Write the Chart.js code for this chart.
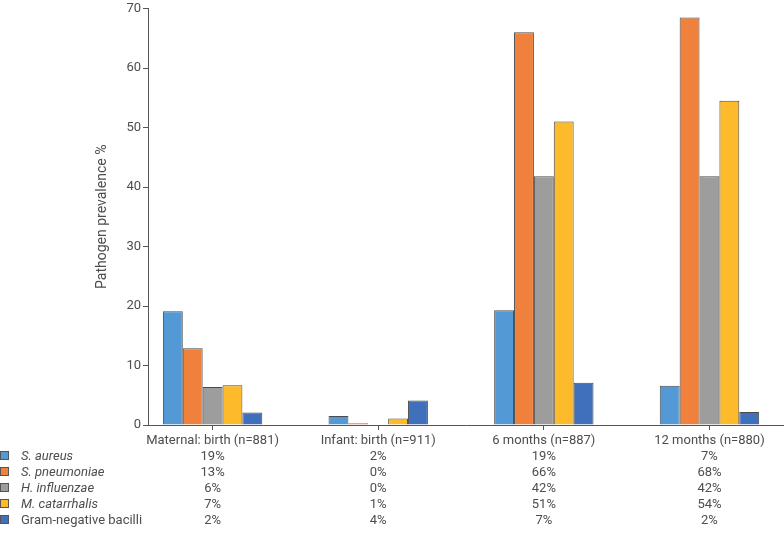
<!DOCTYPE html>
<html>
<head>
<meta charset="utf-8">
<script src="https://cdn.jsdelivr.net/npm/chart.js@4/dist/chart.umd.min.js"></script>
<style>
  body { margin: 0; background: #fff; }
</style>
</head>
<body>
<canvas id="myChart" width="784" height="545"></canvas>
<script>
// categorias (eixo x) e séries
const categorias = ['Maternal: birth (n=881)', 'Infant: birth (n=911)', '6 months (n=887)', '12 months (n=880)'];
const patogenos = ['S. aureus', 'S. pneumoniae', 'H. influenzae', 'M. catarrhalis', 'Gram-negative bacilli'];
const italico = [true, true, true, true, false];

const sAureus = [19.1, 1.5, 19.3, 6.6];
const sPneumoniae = [12.9, 0.3, 66.0, 68.5];
const hInfluenzae = [6.4, 0, 41.8, 41.8];
const mCatarrhalis = [6.7, 1.1, 51.0, 54.5];
const gramNegativos = [2.1, 4.1, 7.1, 2.2];

// tabela abaixo do eixo
const tabAureus = ['19%', '2%', '19%', '7%'];
const tabPneumoniae = ['13%', '0%', '66%', '68%'];
const tabInfluenzae = ['6%', '0%', '42%', '42%'];
const tabCatarrhalis = ['7%', '1%', '51%', '54%'];
const tabGramNeg = ['2%', '4%', '7%', '2%'];

const yTicks = [0, 10, 20, 30, 40, 50, 60, 70];

const series = [sAureus, sPneumoniae, hInfluenzae, mCatarrhalis, gramNegativos];
const tabela = [tabAureus, tabPneumoniae, tabInfluenzae, tabCatarrhalis, tabGramNeg];
const cores = ['#5399d6', '#f0813c', '#9d9d9d', '#fdbb2b', '#4070bb'];

const corTexto = '#4d4d4d';
const fonte = 'Roboto, "Noto Sans", sans-serif';

// legenda desenhada à esquerda, alinhada com as linhas da tabela
const legendaTabela = {
  id: 'legendaTabela',
  afterDraw(chart) {
    const ctx = chart.ctx;
    const topo = chart.scales.x.top + 8;
    ctx.save();
    ctx.textBaseline = 'middle';
    ctx.textAlign = 'left';
    patogenos.forEach((nome, i) => {
      const y = topo + 16 * (i + 1) + 8;
      ctx.fillStyle = cores[i];
      ctx.fillRect(0, y - 6, 9, 9);
      ctx.strokeStyle = '#555';
      ctx.lineWidth = 1;
      ctx.strokeRect(0.5, y - 5.5, 8, 8);
      ctx.fillStyle = corTexto;
      ctx.font = (italico[i] ? 'italic ' : '') + '13px ' + fonte;
      ctx.fillText(nome, 21, y);
    });
    ctx.restore();
  },
};

function criarGrafico() {
  const ctx = document.getElementById('myChart').getContext('2d');
  new Chart(ctx, {
    type: 'bar',
    data: {
      datasets: series.map((valores, i) => ({
        label: patogenos[i],
        data: valores.map((v, j) => ({ x: j, y: v })),
        backgroundColor: cores[i],
        borderColor: 'rgba(55, 55, 55, 0.9)',
        borderWidth: 1,
        categoryPercentage: 0.6,
        barPercentage: 1,
      })),
    },
    options: {
      responsive: false,
      animation: false,
      layout: { padding: { left: 88, top: 5, right: 0, bottom: 0 } },
      plugins: {
        legend: { display: false },
        tooltip: { enabled: false },
      },
      scales: {
        x: {
          type: 'linear',
          min: -0.39,
          max: 3.45,
          offset: false,
          grid: {
            offset: false,
            drawOnChartArea: false,
            drawTicks: true,
            tickLength: 5,
            tickColor: '#555',
            color: '#555',
          },
          border: { color: '#555', width: 1 },
          ticks: {
            stepSize: 1,
            includeBounds: false,
            autoSkip: false,
            maxRotation: 0,
            padding: 3,
            color: corTexto,
            font: { family: fonte, size: 13, lineHeight: 1.23 },
            callback: (v) => {
              if (!Number.isInteger(v) || v < 0 || v >= categorias.length) return '';
              return [categorias[v]].concat(tabela.map((linha) => linha[v]));
            },
          },
          afterFit: (scale) => { scale.height = 120; },
        },
        y: {
          min: 0,
          max: 70,
          grid: {
            drawOnChartArea: false,
            drawTicks: true,
            tickLength: 5,
            tickColor: '#555',
            color: '#555',
          },
          border: { color: '#555', width: 1 },
          ticks: {
            stepSize: 10,
            padding: 2,
            color: corTexto,
            font: { family: fonte, size: 13, lineHeight: 1 },
            callback: (v) => (yTicks.includes(v) ? v : ''),
          },
          title: {
            display: true,
            text: 'Pathogen prevalence %',
            color: corTexto,
            font: { family: fonte, size: 14 },
            padding: { top: 6, bottom: 0 },
          },
          afterFit: (scale) => { scale.width = 60; },
        },
      },
    },
    plugins: [legendaTabela],
  });
}

criarGrafico();
</script>
</body>
</html>
